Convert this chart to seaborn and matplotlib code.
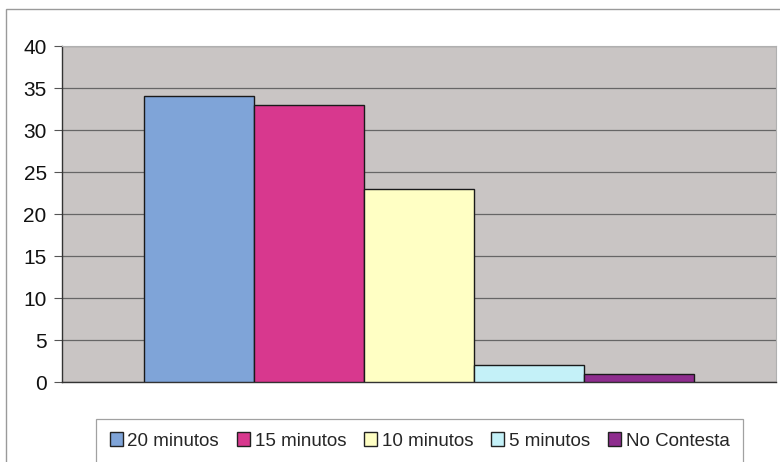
import matplotlib
matplotlib.use("Agg")
import matplotlib.pyplot as plt
from matplotlib.patches import Rectangle, Patch
import pandas as pd
import seaborn as sns

series = ["20 minutos", "15 minutos", "10 minutos", "5 minutos", "No Contesta"]
values = [34, 33, 23, 2, 1]
colors = ["#7FA4D8", "#D8388E", "#FFFFC4", "#C4F1F8", "#8E2D8E"]
y_ticks = [0, 5, 10, 15, 20, 25, 30, 35, 40]

df = pd.DataFrame({"grupo": [""] * len(series), "serie": series, "valor": values})

sns.set_theme(style="white")
plt.rcParams["font.family"] = ["Liberation Sans", "DejaVu Sans"]

fig = plt.figure(figsize=(7.8, 4.62), dpi=100)
ax = fig.add_axes([62 / 780, 1 - 382 / 462, 714 / 780, 336 / 462])
ax.set_facecolor("#C9C5C4")

sns.barplot(data=df, x="grupo", y="valor", hue="serie", hue_order=series,
            palette=colors, width=0.77, edgecolor="#1a1a1a", linewidth=1.0,
            saturation=1, ax=ax, legend=False, zorder=3)

ax.set_xlim(-0.5, 0.5)
ax.set_ylim(0, 40)
ax.set_yticks(y_ticks)
ax.set_yticklabels([str(t) for t in y_ticks], fontsize=15, color="#111111")
ax.set_xticks([])
ax.set_xlabel("")
ax.set_ylabel("")
ax.yaxis.grid(True, color="#666666", linewidth=0.9, zorder=1)
ax.set_axisbelow(True)
ax.tick_params(axis="y", length=6, width=0.8, color="#555555", pad=5, left=True)

for side in ["left", "bottom"]:
    ax.spines[side].set_color("#333333")
    ax.spines[side].set_linewidth(1.0)
for side in ["top", "right"]:
    ax.spines[side].set_color("#b0b0b0")
    ax.spines[side].set_linewidth(0.8)

# chart frame
fig.patches.append(Rectangle((6 / 780, -0.1), 1.2, 1 - 9 / 462 + 0.1,
                             transform=fig.transFigure, fill=False,
                             edgecolor="#9a9a9a", linewidth=1.0))

handles = [Patch(facecolor=c, edgecolor="#222222", linewidth=1.0) for c in colors]
leg = fig.legend(handles, series, loc="center", bbox_to_anchor=(419.5 / 780, 1 - 441 / 462),
                 ncol=5, fontsize=13.5, frameon=True, fancybox=False,
                 handlelength=0.7, handleheight=0.7, handletextpad=0.25,
                 columnspacing=0.95, borderpad=0.7)
leg.get_frame().set_edgecolor("#8a8a8a")
leg.get_frame().set_linewidth(0.9)

fig.savefig("out.png", dpi=100)
